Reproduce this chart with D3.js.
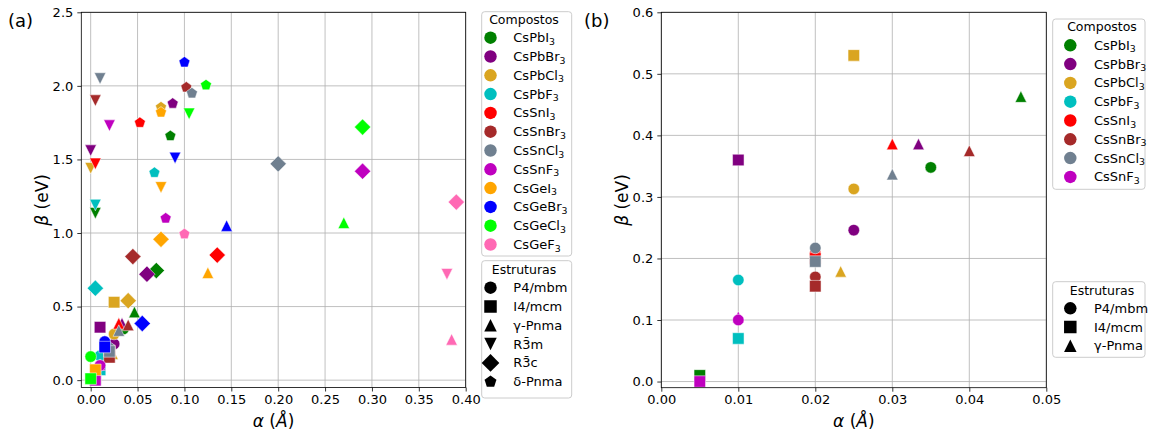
<!DOCTYPE html>
<html>
<head>
<meta charset="utf-8">
<script src="https://cdn.jsdelivr.net/npm/d3@7"></script>
<style>
  body { margin: 0; background: #fff; }
  svg { font-family: "DejaVu Sans", sans-serif; }
</style>
</head>
<body>
<script>
// ---- data ----
const compounds = ['CsPbI3','CsPbBr3','CsPbCl3','CsPbF3','CsSnI3','CsSnBr3','CsSnCl3','CsSnF3','CsGeI3','CsGeBr3','CsGeCl3','CsGeF3'];
const structures = ['P4/mbm','I4/mcm','γ-Pnma','R3̄m','R3̄c','δ-Pnma'];

// alpha (Å) and beta (eV), one entry per compound, null = not shown
const alphaP4mbm = [0.035, 0.025, 0.025, 0.01, 0.02, 0.02, 0.02, 0.01, null, 0.015, 0.0, null];
const betaP4mbm  = [0.348, 0.246, 0.313, 0.165, 0.208, 0.17, 0.217, 0.10, null, 0.262, 0.16, null];

const alphaI4mcm = [0.005, 0.01, 0.025, 0.01, 0.02, 0.02, 0.02, 0.005, 0.005, 0.015, 0.0, null];
const betaI4mcm  = [0.01, 0.36, 0.53, 0.07, 0.20, 0.155, 0.195, 0.0, 0.07, 0.225, 0.01, null];

const alphaGPnma = [0.0467, 0.0334, 0.0233, null, 0.03, 0.04, 0.03, 0.01, 0.125, 0.145, 0.27, 0.385];
const betaGPnma  = [0.463, 0.386, 0.179, null, 0.386, 0.375, 0.337, 0.105, 0.73, 1.05, 1.07, 0.277];

const alphaR3m = [0.005, 0.0, 0.0, 0.005, 0.005, 0.005, 0.01, 0.02, 0.075, 0.09, 0.105, 0.38];
const betaR3m  = [1.135, 1.56, 1.44, 1.19, 1.47, 1.90, 2.05, 1.73, 1.31, 1.51, 1.81, 0.72];

const alphaR3c = [0.07, 0.06, 0.04, 0.005, 0.135, 0.045, 0.20, 0.29, 0.075, 0.055, 0.29, 0.39];
const betaR3c  = [0.745, 0.72, 0.54, 0.625, 0.85, 0.84, 1.47, 1.42, 0.957, 0.385, 1.72, 1.21];

const alphaDPnma = [0.085, 0.0875, 0.075, 0.068, 0.0525, 0.102, 0.108, 0.08, 0.075, 0.10, 0.123, 0.10];
const betaDPnma  = [1.66, 1.88, 1.855, 1.41, 1.75, 1.99, 1.95, 1.10, 1.82, 2.16, 2.005, 0.993];

const xTicksA = [0, 0.05, 0.10, 0.15, 0.20, 0.25, 0.30, 0.35, 0.40];
const yTicksA = [0, 0.5, 1.0, 1.5, 2.0, 2.5];
const xTicksB = [0, 0.01, 0.02, 0.03, 0.04, 0.05];
const yTicksB = [0, 0.1, 0.2, 0.3, 0.4, 0.5, 0.6];

// ---- styles ----
const compoundColors = ['#008000','#800080','#daa520','#00bfbf','#ff0000','#a52a2a','#708090','#bf00bf','#ffa500','#0000ff','#00ff00','#ff69b4'];
const structureShapes = ['circle','square','triUp','triDown','diamond','pentagon'];
const alphas = [alphaP4mbm, alphaI4mcm, alphaGPnma, alphaR3m, alphaR3c, alphaDPnma];
const betas = [betaP4mbm, betaI4mcm, betaGPnma, betaR3m, betaR3c, betaDPnma];
const drawOrder = [2, 3, 4, 5, 0, 1];

const W = 1151, H = 434;
const MS = 11.5;

function markerPath(shape, ms){
    const h = ms/2;
    switch(shape){
        case 'circle': return `M${h},0A${h},${h} 0 1,1 ${-h},0A${h},${h} 0 1,1 ${h},0Z`;
        case 'square': return `M${-h},${-h}H${h}V${h}H${-h}Z`;
        case 'triUp': return `M0,${-h}L${h},${h}L${-h},${h}Z`;
        case 'triDown': return `M0,${h}L${h},${-h}L${-h},${-h}Z`;
        case 'diamond': {
            const d = ms/Math.SQRT2;
            return `M0,${-d}L${d},0L0,${d}L${-d},0Z`;
        }
        case 'pentagon': {
            const pts = d3.range(5).map(k=>{
                const a = -Math.PI/2 + k*2*Math.PI/5;
                return [h*Math.cos(a), h*Math.sin(a)];
            });
            return 'M' + pts.map(p=>p.join(',')).join('L') + 'Z';
        }
    }
}

const svg = d3.select('body').append('svg').attr('width', W).attr('height', H);

// compound name with subscripted 3
function chemText(sel, name){
    sel.append('tspan').text(name.slice(0, -1));
    sel.append('tspan').text(name.slice(-1)).attr('font-size', '0.72em').attr('dy', '0.28em');
}

function panel(cfg){
    const x = d3.scaleLinear().domain(cfg.xDomain).range([cfg.left, cfg.right]);
    const y = d3.scaleLinear().domain(cfg.yDomain).range([cfg.bottom, cfg.top]);
    const g = svg.append('g');

    // grid
    g.append('g').selectAll('line').data(cfg.xTicks).join('line')
        .attr('x1', d=>x(d)).attr('x2', d=>x(d))
        .attr('y1', cfg.top).attr('y2', cfg.bottom)
        .attr('stroke', '#b0b0b0').attr('stroke-width', 0.8);
    g.append('g').selectAll('line').data(cfg.yTicks).join('line')
        .attr('y1', d=>y(d)).attr('y2', d=>y(d))
        .attr('x1', cfg.left).attr('x2', cfg.right)
        .attr('stroke', '#b0b0b0').attr('stroke-width', 0.8);

    // points
    const pts = [];
    for(let c = 0; c < cfg.nCompounds; c++){
        drawOrder.forEach(s=>{
            if(!cfg.structIdx.includes(s)) return;
            const a = alphas[s][c], b = betas[s][c];
            if(a === null || b === null) return;
            pts.push({c, s, a, b});
        });
    }
    const clipId = 'clip' + cfg.tag.replace(/\W/g, '');
    svg.append('clipPath').attr('id', clipId).append('rect')
        .attr('x', cfg.left).attr('y', cfg.top)
        .attr('width', cfg.right - cfg.left).attr('height', cfg.bottom - cfg.top);
    g.append('g').attr('clip-path', `url(#${clipId})`)
        .selectAll('path').data(pts).join('path')
        .attr('transform', d=>`translate(${x(d.a)},${y(d.b)})`)
        .attr('d', d=>markerPath(structureShapes[d.s], MS))
        .attr('fill', d=>compoundColors[d.c])
        .attr('stroke', '#fff').attr('stroke-width', 0.5);

    // axes
    const xAxis = d3.axisBottom(x).tickValues(cfg.xTicks).tickFormat(d3.format('.2f'))
        .tickSize(4).tickSizeOuter(0).tickPadding(3.5);
    const yAxis = d3.axisLeft(y).tickValues(cfg.yTicks).tickFormat(d3.format('.1f'))
        .tickSize(4).tickSizeOuter(0).tickPadding(4);
    const gx = g.append('g').attr('transform', `translate(0,${cfg.bottom})`).call(xAxis);
    const gy = g.append('g').attr('transform', `translate(${cfg.left},0)`).call(yAxis);
    [gx, gy].forEach(a=>{
        a.select('.domain').remove();
        a.selectAll('text').attr('font-size', 13).attr('font-family', 'DejaVu Sans').attr('fill', '#000');
        a.selectAll('line').attr('stroke', '#000').attr('stroke-width', 0.8);
    });

    // frame
    g.append('rect').attr('x', cfg.left).attr('y', cfg.top)
        .attr('width', cfg.right - cfg.left).attr('height', cfg.bottom - cfg.top)
        .attr('fill', 'none').attr('stroke', '#000').attr('stroke-width', 0.8);

    // axis labels
    const xl = g.append('text').attr('x', (cfg.left + cfg.right)/2).attr('y', 427)
        .attr('text-anchor', 'middle').attr('font-size', 17);
    xl.append('tspan').attr('font-style', 'italic').text('α');
    xl.append('tspan').text(' (');
    xl.append('tspan').attr('font-style', 'italic').text('Å');
    xl.append('tspan').text(')');

    const yl = g.append('text')
        .attr('transform', `translate(${cfg.yLabelX},${(cfg.top + cfg.bottom)/2}) rotate(-90)`)
        .attr('text-anchor', 'middle').attr('dy', '0.35em').attr('font-size', 17);
    yl.append('tspan').attr('font-style', 'italic').text('β');
    yl.append('tspan').text(' (eV)');

    g.append('text').attr('x', cfg.tagX).attr('y', 27).attr('font-size', 18).text(cfg.tag);

    // legends
    legend(cfg.legC, 'Compostos', d3.range(cfg.nCompounds).map(c=>({
        label: compounds[c], shape: 'circle', color: compoundColors[c], chem: true})));
    legend(cfg.legS, 'Estruturas', cfg.structIdx.map(s=>({
        label: structures[s], shape: structureShapes[s], color: '#000', chem: false})));
}

function legend(L, title, items){
    const g = svg.append('g');
    g.append('rect').attr('x', L.x0).attr('y', L.y0)
        .attr('width', L.x1 - L.x0).attr('height', L.y1 - L.y0).attr('rx', 3)
        .attr('fill', '#fff').attr('fill-opacity', 0.8)
        .attr('stroke', '#cccccc').attr('stroke-width', 1);
    g.append('text').attr('x', L.titleX).attr('y', L.titleY).attr('dy', '0.35em')
        .attr('text-anchor', 'middle').attr('font-size', 12.5).text(title);
    items.forEach((it, i)=>{
        const cy = L.firstY + i*L.step;
        g.append('path').attr('transform', `translate(${L.markerX},${cy})`)
            .attr('d', markerPath(it.shape, 12.5)).attr('fill', it.color);
        const t = g.append('text').attr('x', L.textX).attr('y', cy).attr('dy', '0.35em')
            .attr('font-size', 13);
        if(it.chem) chemText(t, it.label); else t.text(it.label);
    });
}

panel({
    tag: '(a)', tagX: 8, yLabelX: 42,
    left: 81.3, right: 465.7, top: 12.3, bottom: 387.5,
    xDomain: [-0.01, 0.40], yDomain: [-0.05, 2.5],
    xTicks: xTicksA, yTicks: yTicksA,
    nCompounds: 12, structIdx: [0, 1, 2, 3, 4, 5],
    legC: {x0: 481.7, x1: 571.7, y0: 11.7, y1: 256, titleX: 524, titleY: 19.5,
           markerX: 490.5, textX: 513.3, firstY: 37.7, step: 18.8},
    legS: {x0: 481.7, x1: 571.7, y0: 260.7, y1: 398, titleX: 524, titleY: 269.5,
           markerX: 490.5, textX: 513.3, firstY: 287.7, step: 18.8}
});

panel({
    tag: '(b)', tagX: 584, yLabelX: 622,
    left: 661.3, right: 1046.3, top: 12.3, bottom: 387.7,
    xDomain: [0, 0.05], yDomain: [-0.01, 0.6],
    xTicks: xTicksB, yTicks: yTicksB,
    nCompounds: 8, structIdx: [0, 1, 2],
    legC: {x0: 1052.7, x1: 1145, y0: 19, y1: 189.3, titleX: 1102, titleY: 26.7,
           markerX: 1070.3, textX: 1094, firstY: 45.3, step: 18.8},
    legS: {x0: 1052.7, x1: 1145, y0: 281.7, y1: 357.3, titleX: 1102, titleY: 291,
           markerX: 1070.3, textX: 1094, firstY: 308.3, step: 18.7}
});
</script>
</body>
</html>
